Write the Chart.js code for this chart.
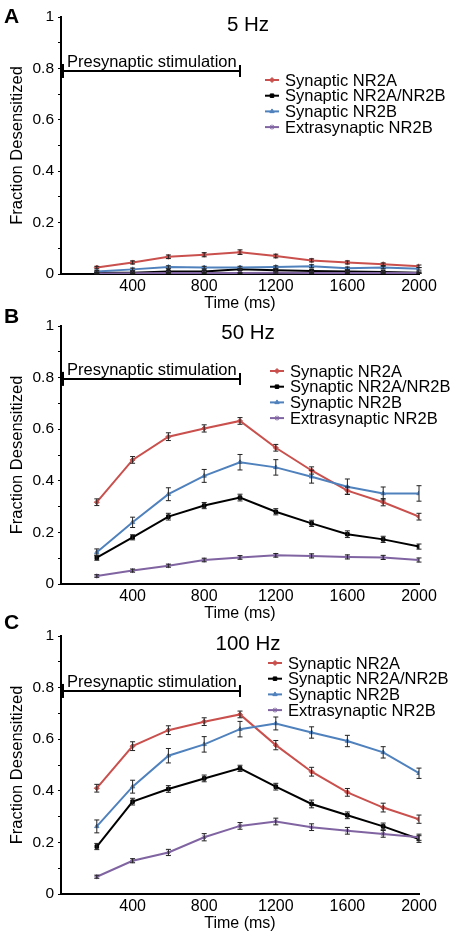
<!DOCTYPE html>
<html>
<head>
<meta charset="utf-8">
<script src="https://cdn.jsdelivr.net/npm/chart.js@4/dist/chart.umd.min.js"></script>
<style>
  body { margin: 0; background: #fff; width: 454px; height: 935px; position: relative; overflow: hidden; }
  .panel { position: absolute; left: 0; width: 454px; height: 314px; }
  .letter { position: absolute; left: 4px; font: bold 21px "Liberation Sans", Arial, sans-serif; line-height: 1; color: #000; }
</style>
</head>
<body>
<div class="panel" style="top:0px"><canvas id="chartA"></canvas></div>
<div class="panel" style="top:310px"><canvas id="chartB"></canvas></div>
<div class="panel" style="top:620px"><canvas id="chartC"></canvas></div>
<div class="letter" style="top:5px">A</div>
<div class="letter" style="top:305px">B</div>
<div class="letter" style="top:611px">C</div>
<script>
// time points (ms)
const times = [200, 400, 600, 800, 1000, 1200, 1400, 1600, 1800, 2000];
const seriesNames = ['Synaptic NR2A', 'Synaptic NR2A/NR2B', 'Synaptic NR2B', 'Extrasynaptic NR2B'];

// 5 Hz
const nr2a_5   = [0.025, 0.045, 0.067, 0.075, 0.085, 0.070, 0.053, 0.045, 0.038, 0.030];
const nr2ab_5  = [0.005, 0.005, 0.010, 0.010, 0.018, 0.015, 0.012, 0.010, 0.008, 0.005];
const nr2b_5   = [0.010, 0.018, 0.027, 0.025, 0.025, 0.027, 0.030, 0.022, 0.025, 0.020];
const ext_5    = [0.002, 0.003, 0.004, 0.004, 0.004, 0.005, 0.004, 0.004, 0.004, 0.004];
const nr2aErr_5  = [0.005, 0.006, 0.007, 0.008, 0.009, 0.007, 0.006, 0.006, 0.005, 0.005];
const nr2abErr_5 = [0.003, 0.003, 0.004, 0.004, 0.004, 0.004, 0.004, 0.003, 0.003, 0.003];
const nr2bErr_5  = [0.004, 0.005, 0.005, 0.005, 0.005, 0.005, 0.006, 0.005, 0.005, 0.005];
const extErr_5   = [0.002, 0.002, 0.002, 0.002, 0.002, 0.002, 0.002, 0.002, 0.002, 0.002];

// 50 Hz
const nr2a_50  = [0.317, 0.481, 0.571, 0.603, 0.632, 0.528, 0.440, 0.362, 0.317, 0.261];
const nr2ab_50 = [0.102, 0.181, 0.261, 0.304, 0.335, 0.280, 0.235, 0.193, 0.173, 0.145];
const nr2b_50  = [0.123, 0.239, 0.348, 0.419, 0.472, 0.452, 0.416, 0.377, 0.351, 0.351];
const ext_50   = [0.031, 0.052, 0.071, 0.093, 0.103, 0.111, 0.109, 0.105, 0.103, 0.093];
const nr2aErr_50  = [0.013, 0.013, 0.015, 0.014, 0.013, 0.013, 0.014, 0.014, 0.014, 0.013];
const nr2abErr_50 = [0.010, 0.010, 0.013, 0.012, 0.013, 0.012, 0.012, 0.013, 0.012, 0.010];
const nr2bErr_50  = [0.013, 0.020, 0.025, 0.025, 0.030, 0.030, 0.025, 0.030, 0.025, 0.030];
const extErr_50   = [0.005, 0.006, 0.006, 0.007, 0.007, 0.007, 0.008, 0.008, 0.008, 0.008];

// 100 Hz
const nr2a_100  = [0.410, 0.573, 0.635, 0.668, 0.696, 0.577, 0.474, 0.394, 0.335, 0.290];
const nr2ab_100 = [0.184, 0.358, 0.407, 0.448, 0.487, 0.416, 0.349, 0.305, 0.262, 0.213];
const nr2b_100  = [0.262, 0.416, 0.536, 0.580, 0.639, 0.661, 0.626, 0.593, 0.549, 0.468];
const ext_100   = [0.067, 0.129, 0.161, 0.220, 0.264, 0.281, 0.259, 0.245, 0.233, 0.220];
const nr2aErr_100  = [0.015, 0.017, 0.017, 0.015, 0.013, 0.018, 0.017, 0.015, 0.017, 0.016];
const nr2abErr_100 = [0.012, 0.013, 0.013, 0.013, 0.012, 0.013, 0.015, 0.013, 0.013, 0.013];
const nr2bErr_100  = [0.025, 0.025, 0.028, 0.030, 0.030, 0.025, 0.022, 0.022, 0.022, 0.020];
const extErr_100   = [0.006, 0.008, 0.012, 0.014, 0.013, 0.013, 0.013, 0.013, 0.013, 0.012];

// stimulation bracket: from 0 to 1000 ms
const stimStart = 0;
const stimEnd = 1000;

const colors = ['#c9504d', '#000000', '#4f81bd', '#8064a2'];
const markers = ['rectRot', 'rect', 'triangle', 'star'];
const FONT = '"Liberation Sans", Arial, Helvetica, sans-serif';
Chart.defaults.font.family = FONT;
Chart.defaults.color = '#000';

// draws error bars, bracket, title and legend
const decorPlugin = {
  id: 'decor',
  afterDatasetsDraw(chart) {
    const ctx = chart.ctx;
    const yS = chart.scales.y;
    ctx.save();
    ctx.strokeStyle = '#222';
    ctx.lineWidth = 1;
    chart.data.datasets.forEach((ds, i) => {
      const meta = chart.getDatasetMeta(i);
      meta.data.forEach((pt, j) => {
        const v = ds.data[j].y;
        const e = ds.errors[j];
        const y1 = yS.getPixelForValue(v - e);
        const y2 = yS.getPixelForValue(v + e);
        ctx.beginPath();
        ctx.moveTo(pt.x, y1); ctx.lineTo(pt.x, y2);
        ctx.moveTo(pt.x - 2.5, y1); ctx.lineTo(pt.x + 2.5, y1);
        ctx.moveTo(pt.x - 2.5, y2); ctx.lineTo(pt.x + 2.5, y2);
        ctx.stroke();
      });
    });
    ctx.restore();
  },
  afterDraw(chart) {
    const o = chart.options.plugins.decor;
    const ctx = chart.ctx;
    const area = chart.chartArea;
    const xS = chart.scales.x, yS = chart.scales.y;
    ctx.save();

    // title
    ctx.fillStyle = '#000';
    ctx.font = '20.5px ' + FONT;
    ctx.textAlign = 'center';
    ctx.textBaseline = 'middle';
    ctx.fillText(o.title, 248, area.top + o.titleOffset);

    // presynaptic stimulation bracket
    const by = yS.getPixelForValue(o.bracketY);
    const bx1 = xS.getPixelForValue(stimStart);
    const bx2 = xS.getPixelForValue(stimEnd);
    ctx.strokeStyle = '#000';
    ctx.lineWidth = 2;
    ctx.beginPath();
    ctx.moveTo(bx1, by); ctx.lineTo(bx2, by);
    ctx.moveTo(bx2, by - 6); ctx.lineTo(bx2, by + 6);
    ctx.stroke();
    ctx.lineWidth = 4;
    ctx.beginPath();
    ctx.moveTo(bx1 + 1, by - 7); ctx.lineTo(bx1 + 1, by + 7);
    ctx.stroke();
    ctx.font = '16.5px ' + FONT;
    ctx.textAlign = 'left';
    ctx.textBaseline = 'alphabetic';
    ctx.fillText('Presynaptic stimulation', bx1 + 6, by - 4);

    // legend, in series order
    ctx.font = '16.5px ' + FONT;
    ctx.textBaseline = 'middle';
    const legendItems = chart.data.datasets.slice().sort((a, b) => a.legendIndex - b.legendIndex);
    legendItems.forEach((ds, i) => {
      const ly = area.top + o.legendTop + i * 15.7;
      ctx.strokeStyle = ds.borderColor;
      ctx.lineWidth = 2;
      ctx.beginPath();
      ctx.moveTo(o.legendX, ly); ctx.lineTo(o.legendX + 14, ly);
      ctx.stroke();
      ctx.fillStyle = ds.borderColor;
      ctx.lineWidth = 1;
      Chart.helpers.drawPoint(ctx, { pointStyle: ds.pointStyle, radius: 2.5, borderWidth: 1, rotation: 0 }, o.legendX + 7, ly);
      ctx.fillStyle = '#000';
      ctx.fillText(ds.label, o.legendX + 20, ly + 1);
    });
    ctx.restore();
  }
};

function makePanel(id, series, errors, opts) {
  const datasets = series.map((vals, i) => ({
    label: seriesNames[i],
    legendIndex: i,
    data: times.map((t, j) => ({ x: t, y: vals[j] })),
    errors: errors[i],
    borderColor: colors[i],
    backgroundColor: colors[i],
    borderWidth: 2,
    pointStyle: markers[i],
    pointRadius: 2.5,
    pointBorderWidth: 1,
    tension: 0
  }));
  // draw purple first, red last like the original
  datasets.reverse();
  const chart = new Chart(document.getElementById(id), {
    type: 'line',
    data: { datasets: datasets },
    options: {
      responsive: true,
      maintainAspectRatio: false,
      animation: false,
      layout: { padding: { top: opts.padTop, right: 35, left: 0, bottom: 0 } },
      plugins: {
        legend: { display: false },
        tooltip: { enabled: false },
        decor: opts
      },
      scales: {
        x: {
          type: 'linear',
          min: 0,
          max: 2000,
          grid: { display: false, drawTicks: false },
          border: { display: true, color: '#000', width: 2 },
          ticks: {
            stepSize: 400,
            padding: 3,
            font: { size: 16 },
            maxRotation: 0,
            callback: v => (v === 0 ? '' : String(v))
          },
          title: { display: true, text: 'Time (ms)', font: { size: 16 }, padding: { top: 0, bottom: 1 } },
          afterFit: axis => { axis.height = 40; }
        },
        y: {
          min: 0,
          max: 1,
          grid: { display: true, drawOnChartArea: false, tickLength: 3, color: '#000', lineWidth: 1 },
          border: { display: true, color: '#000', width: 2 },
          ticks: {
            stepSize: 0.1,
            padding: 4,
            font: { size: 15.5 },
            callback: v => {
              const k = Math.round(v * 10);
              return k % 2 === 0 ? String(k / 10) : '';
            }
          },
          title: { display: true, text: 'Fraction Desensitized', font: { size: 16.5 }, padding: { top: 8, bottom: 0 } },
          afterFit: axis => { axis.width = 61; }
        }
      }
    },
    plugins: [decorPlugin]
  });
  return chart;
}

makePanel('chartA',
  [nr2a_5, nr2ab_5, nr2b_5, ext_5],
  [nr2aErr_5, nr2abErr_5, nr2bErr_5, extErr_5],
  { title: '5 Hz', titleOffset: 8, bracketY: 0.79, legendTop: 63, legendX: 265, padTop: 17 });

makePanel('chartB',
  [nr2a_50, nr2ab_50, nr2b_50, ext_50],
  [nr2aErr_50, nr2abErr_50, nr2bErr_50, extErr_50],
  { title: '50 Hz', titleOffset: 7, bracketY: 0.795, legendTop: 45, legendX: 270, padTop: 16 });

makePanel('chartC',
  [nr2a_100, nr2ab_100, nr2b_100, ext_100],
  [nr2aErr_100, nr2abErr_100, nr2bErr_100, extErr_100],
  { title: '100 Hz', titleOffset: 8, bracketY: 0.787, legendTop: 27, legendX: 268, padTop: 16 });
</script>
</body>
</html>
